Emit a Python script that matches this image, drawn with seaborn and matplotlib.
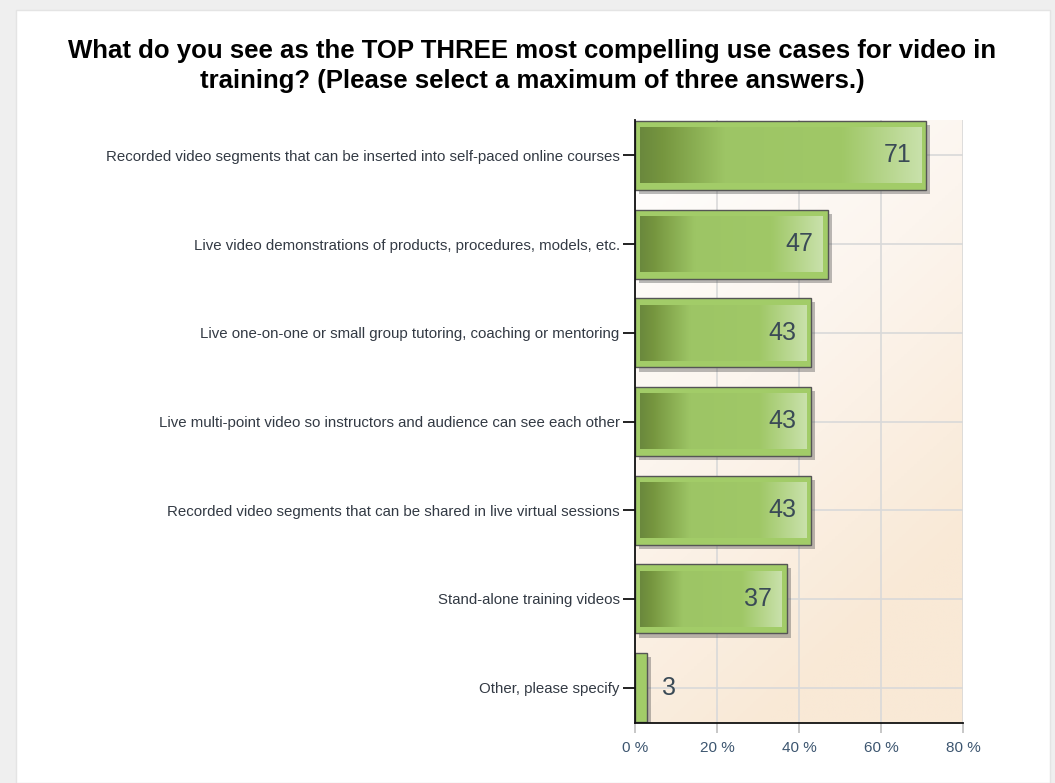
import numpy as np
import pandas as pd
import matplotlib
matplotlib.use("Agg")
import matplotlib.pyplot as plt
import matplotlib.patheffects as pe
from matplotlib.patches import Rectangle
from matplotlib.colors import LinearSegmentedColormap
import seaborn as sns

title = ("What do you see as the TOP THREE most compelling use cases for video in\n"
         "training? (Please select a maximum of three answers.)")
categories = [
    "Recorded video segments that can be inserted into self-paced online courses",
    "Live video demonstrations of products, procedures, models, etc.",
    "Live one-on-one or small group tutoring, coaching or mentoring",
    "Live multi-point video so instructors and audience can see each other",
    "Recorded video segments that can be shared in live virtual sessions",
    "Stand-alone training videos",
    "Other, please specify",
]
values = [71, 47, 43, 43, 43, 37, 3]
x_ticks = [0, 20, 40, 60, 80]
x_tick_labels = ["0 %", "20 %", "40 %", "60 %", "80 %"]

df = pd.DataFrame({"category": categories, "value": values})

sns.set_theme(style="white")
plt.rcParams["font.family"] = ["Liberation Sans", "DejaVu Sans"]

W, H = 1055, 783
fig = plt.figure(figsize=(W / 100, H / 100), dpi=100)
fig.patch.set_facecolor("#efefef")
# white panel
panel = Rectangle((16 / W, 0), (1050 - 16) / W, 1 - 10 / H,
                  transform=fig.transFigure, facecolor="white",
                  edgecolor="#e4e4e4", linewidth=1, zorder=-5)
fig.patches.append(panel)

ax = fig.add_axes([635 / W, 1 - 723 / H, (963 - 635) / W, (723 - 120) / H])
ax.set_zorder(2)
ax.set_facecolor("none")

# background gradient of the plot area
gx, gy = np.meshgrid(np.linspace(0, 1, 200), np.linspace(0, 1, 200))
t = np.clip((gx * 0.5 + gy * 1.0) / 1.2, 0, 1)
bg_cmap = LinearSegmentedColormap.from_list("bg", ["#ffffff", "#fcf5ee", "#f9e9d6"])
ax.imshow(t, cmap=bg_cmap, extent=(0, 1, 0, 1), transform=ax.transAxes,
          aspect="auto", zorder=-10, origin="upper", vmin=0, vmax=1)

sns.barplot(data=df, x="value", y="category", orient="h", color="#a2cc68",
            saturation=1, width=0.78, edgecolor="#555555", linewidth=1.0, ax=ax,
            zorder=3)

grad_cmap = LinearSegmentedColormap.from_list(
    "bar", [(0.0, "#6a883d"), (0.08, "#76963f"), (0.3, "#9dc565"),
            (0.72, "#a0c867"), (1.0, "#c9e1ab")])
grad = np.linspace(0, 1, 256).reshape(1, -1)

for p, v in zip(list(ax.patches), values):
    p.set_path_effects([pe.SimplePatchShadow(offset=(3, -3), shadow_rgbFace="#555555", alpha=0.4),
                        pe.Normal()])
    x0, y0, w, h = p.get_x(), p.get_y(), p.get_width(), p.get_height()
    if w > 5:
        ix0, ix1 = x0 + 1.2, x0 + w - 1.2
        iy0, iy1 = y0 + 0.075, y0 + h - 0.075
        ax.imshow(grad, cmap=grad_cmap, extent=(ix0, ix1, iy1, iy0), aspect="auto",
                  zorder=4, interpolation="bilinear")
        ax.text(x0 + w - 3.6, y0 + h / 2, str(v), ha="right", va="center",
                fontsize=18, color="#3a4a56", zorder=6)
    else:
        ax.text(x0 + w + 3.6, y0 + h / 2, str(v), ha="left", va="center",
                fontsize=18, color="#3a4a56", zorder=6)

ax.set_xlim(0, 80)
ax.set_ylim(6.4, -0.4)

ax.set_xticks(x_ticks)
ax.set_xticklabels(x_tick_labels, fontsize=11, color="#3d5670")
ax.tick_params(axis="x", bottom=True, direction="out", length=7, width=1.2,
               color="#bdbdbd", pad=6)
ax.tick_params(axis="y", left=True, direction="out", length=9, width=1.3, color="#111111",
               labelsize=10.8, labelcolor="#333a44", pad=2)
ax.set_xlabel("")
ax.set_ylabel("")

ax.grid(True, axis="both", color="#d9d9d9", linewidth=1.2, zorder=0)
ax.set_axisbelow(True)
for s in ["top", "right"]:
    ax.spines[s].set_visible(False)
for s in ["left", "bottom"]:
    ax.spines[s].set_color("#111111")
    ax.spines[s].set_linewidth(1.3)
    ax.spines[s].set_zorder(7)

fig.text(532 / W, 1 - 66 / H, title, ha="center", va="center", fontsize=18.5,
         fontweight="bold", color="#000000", linespacing=1.3)

fig.savefig("out.png", dpi=100, facecolor=fig.get_facecolor())
